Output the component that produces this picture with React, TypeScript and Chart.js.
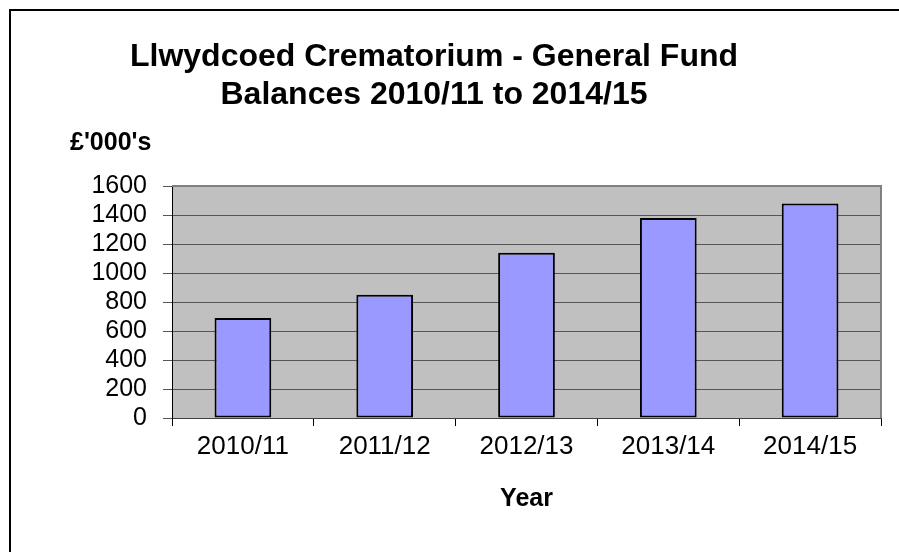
import React, { useEffect, useRef } from "react";
import { Chart, registerables } from "chart.js";

Chart.register(...registerables);

const categories = ["2010/11", "2011/12", "2012/13", "2013/14", "2014/15"];
const balances = [690, 850, 1140, 1380, 1480];
const titleLines = ["Llwydcoed Crematorium - General Fund", "Balances 2010/11 to 2014/15"];
const yUnitLabel = "£'000's";
const xAxisLabel = "Year";

const FONT = "'Liberation Sans', Arial, sans-serif";

const decorPlugin = {
  id: "decor",
  beforeDraw(chart: any) {
    const { ctx, chartArea } = chart;
    ctx.save();
    ctx.fillStyle = "#ffffff";
    ctx.fillRect(0, 0, chart.width, chart.height);
    ctx.fillStyle = "#C0C0C0";
    ctx.fillRect(chartArea.left, chartArea.top, chartArea.right - chartArea.left, chartArea.bottom - chartArea.top);
    ctx.restore();
  },
  beforeDatasetsDraw(chart: any) {
    const { ctx, chartArea } = chart;
    ctx.save();
    ctx.strokeStyle = "#808080";
    ctx.lineWidth = 2;
    ctx.beginPath();
    ctx.moveTo(chartArea.left, chartArea.top);
    ctx.lineTo(chartArea.right, chartArea.top);
    ctx.lineTo(chartArea.right, chartArea.bottom);
    ctx.stroke();
    ctx.restore();
  },
  afterDraw(chart: any) {
    const { ctx, chartArea } = chart;
    ctx.save();
    // outer frame
    ctx.strokeStyle = "#000000";
    ctx.lineWidth = 2;
    ctx.strokeRect(10, 10, 2000, 2000);
    // title
    ctx.fillStyle = "#000000";
    ctx.textAlign = "center";
    ctx.textBaseline = "middle";
    ctx.font = `bold 32px ${FONT}`;
    ctx.fillText(titleLines[0], 434, 57);
    ctx.fillText(titleLines[1], 434, 95);
    // unit label
    ctx.font = `bold 25px ${FONT}`;
    ctx.textAlign = "left";
    ctx.fillText(yUnitLabel, 70, 143);
    // x axis title
    ctx.textAlign = "center";
    ctx.fillText(xAxisLabel, (chartArea.left + chartArea.right) / 2, 499);
    ctx.restore();
  },
};

export default function App() {
  const canvasRef = useRef<HTMLCanvasElement | null>(null);

  useEffect(() => {
    document.body.style.margin = "0";
    const canvas = canvasRef.current;
    if (!canvas) return;
    const chart = new Chart(canvas, {
      type: "bar",
      data: {
        labels: categories,
        datasets: [
          {
            label: "Balance",
            data: balances,
            backgroundColor: "#9999FF",
            borderColor: "#000000",
            borderWidth: 2,
            borderSkipped: false,
            categoryPercentage: 1,
            barPercentage: 0.4,
          },
        ],
      },
      options: {
        animation: false,
        responsive: false,
        maintainAspectRatio: false,
        layout: { padding: { left: 0, top: 186, right: 18, bottom: 0 } },
        plugins: {
          legend: { display: false },
          title: { display: false },
          tooltip: { enabled: false },
        },
        scales: {
          x: {
            afterFit: (scale: any) => {
              scale.height = 134;
            },
            grid: {
              offset: true,
              drawOnChartArea: false,
              drawTicks: true,
              tickLength: 8,
              color: "#000000",
              lineWidth: 1,
            },
            border: { display: true, color: "#404040", width: 1 },
            ticks: {
              color: "#000000",
              font: { family: FONT, size: 26 },
              padding: 5,
              maxRotation: 0,
              autoSkip: false,
            },
          },
          y: {
            min: 0,
            max: 1600,
            afterFit: (scale: any) => {
              scale.width = 172;
            },
            grid: {
              color: "#555555",
              lineWidth: 1,
              tickLength: 9,
            },
            border: { display: true, color: "#000000", width: 1 },
            ticks: {
              stepSize: 200,
              autoSkip: false,
              color: "#000000",
              font: { family: FONT, size: 25 },
              padding: 16,
              callback: (v: any) => String(v),
            },
          },
        },
      },
      plugins: [decorPlugin],
    });
    return () => chart.destroy();
  }, []);

  return (
    <div style={{ position: "fixed", left: 0, top: 0, width: 899, height: 552 }}>
      <canvas ref={canvasRef} width={899} height={552} style={{ width: 899, height: 552 }} />
    </div>
  );
}
